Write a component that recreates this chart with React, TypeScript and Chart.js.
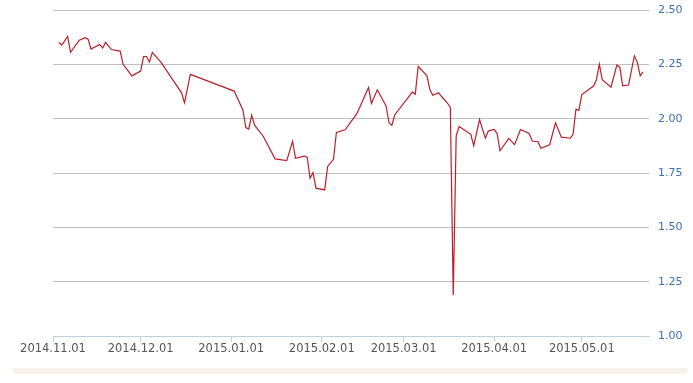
import React, { useEffect, useRef } from "react";
import { Chart, registerables } from "chart.js";

Chart.register(...registerables);

const tickLabels = ["2014.11.01", "2014.12.01", "2015.01.01", "2015.02.01", "2015.03.01", "2015.04.01", "2015.05.01"];
const axisStart = "2014-11-01";
const axisEnd = "2015-05-24";
const yTicks = [1.0, 1.25, 1.5, 1.75, 2.0, 2.25, 2.5];

const dates = [
  "2014-11-03", "2014-11-04", "2014-11-06", "2014-11-07", "2014-11-10", "2014-11-12", "2014-11-13", "2014-11-14",
  "2014-11-17", "2014-11-18", "2014-11-19", "2014-11-21", "2014-11-24", "2014-11-25", "2014-11-28",
  "2014-12-01", "2014-12-02", "2014-12-03", "2014-12-04", "2014-12-05", "2014-12-08", "2014-12-15", "2014-12-16", "2014-12-18",
  "2015-01-02", "2015-01-05", "2015-01-06", "2015-01-07", "2015-01-08", "2015-01-09", "2015-01-12", "2015-01-16",
  "2015-01-20", "2015-01-22", "2015-01-23", "2015-01-26", "2015-01-27", "2015-01-28", "2015-01-29", "2015-01-30",
  "2015-02-02", "2015-02-03", "2015-02-05", "2015-02-06", "2015-02-09", "2015-02-13", "2015-02-17", "2015-02-18",
  "2015-02-20", "2015-02-23", "2015-02-24", "2015-02-25", "2015-02-26",
  "2015-03-04", "2015-03-05", "2015-03-06", "2015-03-09", "2015-03-10", "2015-03-11", "2015-03-13", "2015-03-14",
  "2015-03-16", "2015-03-17", "2015-03-18", "2015-03-19", "2015-03-20", "2015-03-24", "2015-03-25", "2015-03-27",
  "2015-03-29", "2015-03-30",
  "2015-04-01", "2015-04-02", "2015-04-03", "2015-04-06", "2015-04-08", "2015-04-10", "2015-04-13", "2015-04-14",
  "2015-04-16", "2015-04-17", "2015-04-20", "2015-04-22", "2015-04-24", "2015-04-27", "2015-04-28", "2015-04-29", "2015-04-30",
  "2015-05-01", "2015-05-05", "2015-05-06", "2015-05-07", "2015-05-08", "2015-05-11", "2015-05-13", "2015-05-14",
  "2015-05-15", "2015-05-17", "2015-05-19", "2015-05-20", "2015-05-21", "2015-05-22",
];

const values = [
  2.351, 2.339, 2.378, 2.305, 2.361, 2.373, 2.366, 2.320,
  2.341, 2.325, 2.351, 2.318, 2.311, 2.250, 2.197,
  2.219, 2.286, 2.286, 2.261, 2.305, 2.259, 2.119, 2.073, 2.204,
  2.127, 2.040, 1.959, 1.952, 2.016, 1.970, 1.918, 1.815,
  1.807, 1.896, 1.818, 1.828, 1.823, 1.726, 1.752, 1.680,
  1.672, 1.780, 1.813, 1.937, 1.949, 2.023, 2.143, 2.070,
  2.133, 2.059, 1.982, 1.969, 2.018,
  2.122, 2.113, 2.241, 2.197, 2.133, 2.108, 2.119, 2.102,
  2.072, 2.052, 1.189, 1.921, 1.964, 1.928, 1.876, 1.996,
  1.910, 1.943,
  1.950, 1.932, 1.852, 1.909, 1.880, 1.950, 1.932, 1.897,
  1.894, 1.864, 1.880, 1.981, 1.915, 1.910, 1.927, 2.044, 2.038,
  2.111, 2.150, 2.179, 2.250, 2.179, 2.145, 2.247, 2.237,
  2.151, 2.155, 2.289, 2.259, 2.197, 2.216,
];

const DAY = 86400000;
const parseDay = (s: string) => {
  const [y, m, d] = s.replace(/\./g, "-").split("-").map(Number);
  return Date.UTC(y, m - 1, d);
};
const dayOffset = (s: string) => Math.round((parseDay(s) - parseDay(axisStart)) / DAY);

export default function App() {
  const ref = useRef<HTMLCanvasElement | null>(null);

  useEffect(() => {
    if (!ref.current) return;
    const points = dates.map((d, i) => ({ x: dayOffset(d), y: values[i] }));
    const tickVals = tickLabels.map((t) => dayOffset(t));
    const font = { family: "'DejaVu Sans', Verdana, sans-serif", size: 11.5 };
    const chart = new Chart(ref.current, {
      type: "line",
      data: {
        datasets: [
          {
            data: points,
            borderColor: "#bb1f28",
            borderWidth: 1.2,
            pointRadius: 0,
            tension: 0,
            fill: false,
          },
        ],
      },
      options: {
        animation: false,
        responsive: false,
        maintainAspectRatio: false,
        layout: { padding: { left: 53, top: 10, right: 0, bottom: 0 } },
        plugins: { legend: { display: false }, tooltip: { enabled: false } },
        scales: {
          x: {
            type: "linear",
            min: 0,
            max: dayOffset(axisEnd),
            afterBuildTicks: (scale: any) => {
              scale.ticks = tickVals.map((v) => ({ value: v }));
            },
            afterFit: (scale: any) => {
              scale.height = 29;
            },
            ticks: {
              autoSkip: false,
              maxRotation: 0,
              padding: 0,
              color: "#555555",
              font,
              callback: (v: any) => {
                const i = tickVals.indexOf(Number(v));
                return i >= 0 ? tickLabels[i] : "";
              },
            },
            grid: {
              drawOnChartArea: false,
              drawTicks: true,
              tickLength: 6,
              color: "#c0d0e0",
            },
            border: { display: true, color: "#c0d0e0" },
          },
          y: {
            position: "right",
            min: 1,
            max: 2.5,
            afterBuildTicks: (scale: any) => {
              scale.ticks = yTicks.map((v) => ({ value: v }));
            },
            afterFit: (scale: any) => {
              scale.width = 44;
              scale.paddingTop = 0;
              scale.paddingBottom = 0;
            },
            ticks: {
              padding: 9,
              color: "#3d6fb6",
              font: { ...font, size: 11 },
              callback: (v: any) => Number(v).toFixed(2),
            },
            grid: {
              drawTicks: false,
              color: (ctx: any) => (ctx.tick && ctx.tick.value === 1 ? "#c0d0e0" : "#c0c0c0"),
            },
            border: { display: false },
          },
        },
      },
    });
    return () => chart.destroy();
  }, []);

  return (
    <div style={{ position: "fixed", left: 0, top: 0, width: 693, height: 383, background: "#fff" }}>
      <canvas ref={ref} width={693} height={365} style={{ display: "block", width: 693, height: 365 }} />
      <div
        style={{
          position: "absolute",
          left: 13,
          top: 368,
          width: 674,
          height: 6,
          background: "#f7f1ec",
          borderBottomLeftRadius: 3,
          borderBottomRightRadius: 3,
        }}
      />
    </div>
  );
}
